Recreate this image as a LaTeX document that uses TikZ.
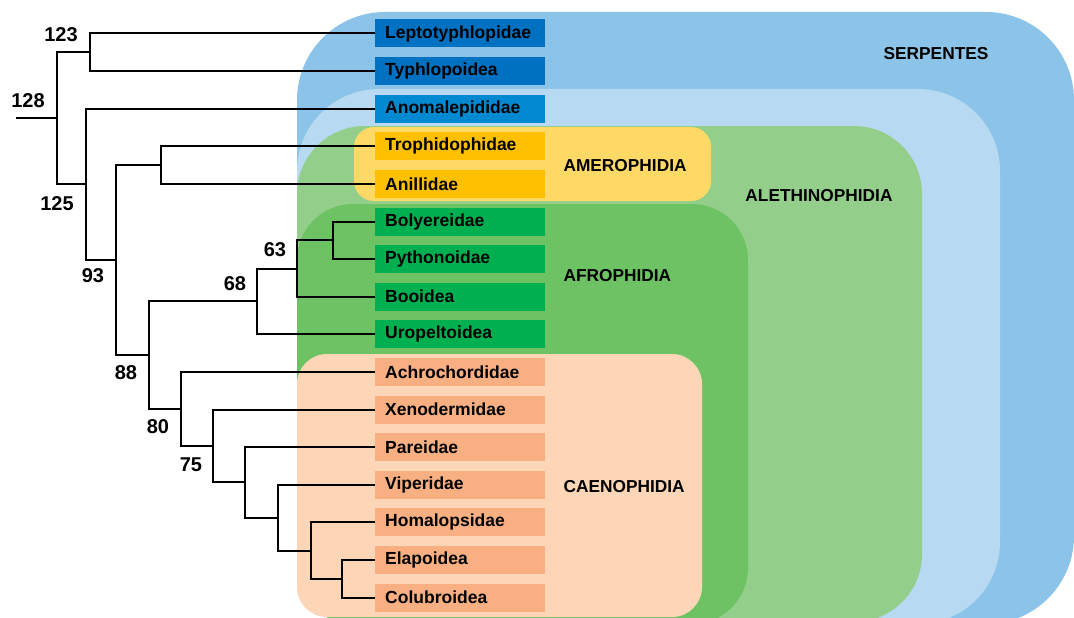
\documentclass[tikz,border=0pt]{standalone}
\usepackage{fontspec}
\setmainfont{Liberation Sans}
\usepackage{tikz}

\definecolor{serpBlue}{RGB}{139,196,232}
\definecolor{aleBlue}{RGB}{183,217,241}
\definecolor{aleGreen}{RGB}{147,207,139}
\definecolor{afroGreen}{RGB}{109,194,99}
\definecolor{caenoPeach}{RGB}{253,214,184}
\definecolor{ameroYellow}{RGB}{255,217,102}
\definecolor{leptoBlue}{RGB}{0,112,192}
\definecolor{anomBlue}{RGB}{0,137,208}
\definecolor{ameroBox}{RGB}{255,192,0}
\definecolor{afroBox}{RGB}{0,176,80}
\definecolor{caenoBox}{RGB}{248,175,130}

\tikzset{
  famBox/.style={rectangle, anchor=west, minimum height=28, text width=150,
    inner xsep=10, inner ysep=0, align=left,
    font=\fontsize{17.5}{20}\selectfont\bfseries},
  cladeLabel/.style={font=\fontsize{17.3}{20}\selectfont\bfseries},
  bootLabel/.style={font=\fontsize{20}{22}\selectfont\bfseries},
  branch/.style={line width=2pt, black}
}

\begin{document}
\begin{tikzpicture}[x=1pt, y=-1pt]
    \useasboundingbox (0,0) rectangle (1074,618);
    \clip (0,0) rectangle (1074,618);

    \fill[serpBlue, rounded corners=88] (297,12) rectangle (1074,624);
    \fill[aleBlue, rounded corners=82] (297,89) rectangle (1000,624);
    \fill[aleGreen, rounded corners=68] (297,126) rectangle (922,622);
    \fill[afroGreen, rounded corners=56] (297,204) rectangle (748,624);
    \fill[caenoPeach, rounded corners=30] (297,354) rectangle (702,617);
    \fill[ameroYellow, rounded corners=20] (354,127) rectangle (711,201);

    \foreach \nm/\txt/\col [count=\i from 0] in {
        lepto/Leptotyphlopidae/leptoBlue, typhlo/Typhlopoidea/leptoBlue,
        anomal/Anomalepididae/anomBlue, troph/Trophidophidae/ameroBox,
        anill/Anillidae/ameroBox, bolyer/Bolyereidae/afroBox,
        python/Pythonoidae/afroBox, booid/Booidea/afroBox,
        uropel/Uropeltoidea/afroBox, achro/Achrochordidae/caenoBox,
        xeno/Xenodermidae/caenoBox, pare/Pareidae/caenoBox,
        viper/Viperidae/caenoBox, homal/Homalopsidae/caenoBox,
        elapo/Elapoidea/caenoBox, colub/Colubroidea/caenoBox}
        \node[famBox, fill=\col] (\nm) at (375, 33.5+37.6*\i) {\txt};

    \coordinate (root) at (16,118.3);
    \coordinate (n128) at (57,118.3);
    \coordinate (n123) at (90,52.3);
    \coordinate (n125) at (86,184.3);
    \coordinate (n93) at (116,259.6);
    \coordinate (nAmero) at (161,165.1);
    \coordinate (n88) at (149,355.2);
    \coordinate (n68) at (257,301.4);
    \coordinate (n63) at (297,268.5);
    \coordinate (nBoly) at (333,240.3);
    \coordinate (n80) at (181,408.9);
    \coordinate (n75) at (213,445.9);
    \coordinate (nPare) at (245,482.4);
    \coordinate (nViper) at (278,517.6);
    \coordinate (nHomal) at (311,550.5);
    \coordinate (nElapo) at (342,578.7);

    \draw[branch] (root) -- (n128);
    \draw[branch] (n128) |- (n123);
    \draw[branch] (n128) |- (n125);
    \draw[branch] (n123) |- (lepto.west);
    \draw[branch] (n123) |- (typhlo.west);
    \draw[branch] (n125) |- (anomal.west);
    \draw[branch] (n125) |- (n93);
    \draw[branch] (n93) |- (nAmero);
    \draw[branch] (n93) |- (n88);
    \draw[branch] (nAmero) |- (troph.west);
    \draw[branch] (nAmero) |- (anill.west);
    \draw[branch] (n88) |- (n68);
    \draw[branch] (n88) |- (n80);
    \draw[branch] (n68) |- (n63);
    \draw[branch] (n68) |- (uropel.west);
    \draw[branch] (n63) |- (nBoly);
    \draw[branch] (n63) |- (booid.west);
    \draw[branch] (nBoly) |- (bolyer.west);
    \draw[branch] (nBoly) |- (python.west);
    \draw[branch] (n80) |- (achro.west);
    \draw[branch] (n80) |- (n75);
    \draw[branch] (n75) |- (xeno.west);
    \draw[branch] (n75) |- (nPare);
    \draw[branch] (nPare) |- (pare.west);
    \draw[branch] (nPare) |- (nViper);
    \draw[branch] (nViper) |- (viper.west);
    \draw[branch] (nViper) |- (nHomal);
    \draw[branch] (nHomal) |- (homal.west);
    \draw[branch] (nHomal) |- (nElapo);
    \draw[branch] (nElapo) |- (elapo.west);
    \draw[branch] (nElapo) |- (colub.west);

    \node[bootLabel] (b123) at (61,35) {123};
    \node[bootLabel] (b128) at (28,101) {128};
    \node[bootLabel] (b125) at (57,204) {125};
    \node[bootLabel] (b93) at (93,276) {93};
    \node[bootLabel] (b63) at (275,250) {63};
    \node[bootLabel] (b68) at (235,284) {68};
    \node[bootLabel] (b88) at (126,373) {88};
    \node[bootLabel] (b80) at (158,427) {80};
    \node[bootLabel] (b75) at (191,465) {75};

    \node[cladeLabel] (serp) at (936,54) {SERPENTES};
    \node[cladeLabel] (aleth) at (819,196) {ALETHINOPHIDIA};
    \node[cladeLabel, anchor=west] (amero) at (560,166) {AMEROPHIDIA};
    \node[cladeLabel, anchor=west] (afro) at (560,276) {AFROPHIDIA};
    \node[cladeLabel, anchor=west] (caeno) at (560,487) {CAENOPHIDIA};
\end{tikzpicture}
\end{document}
